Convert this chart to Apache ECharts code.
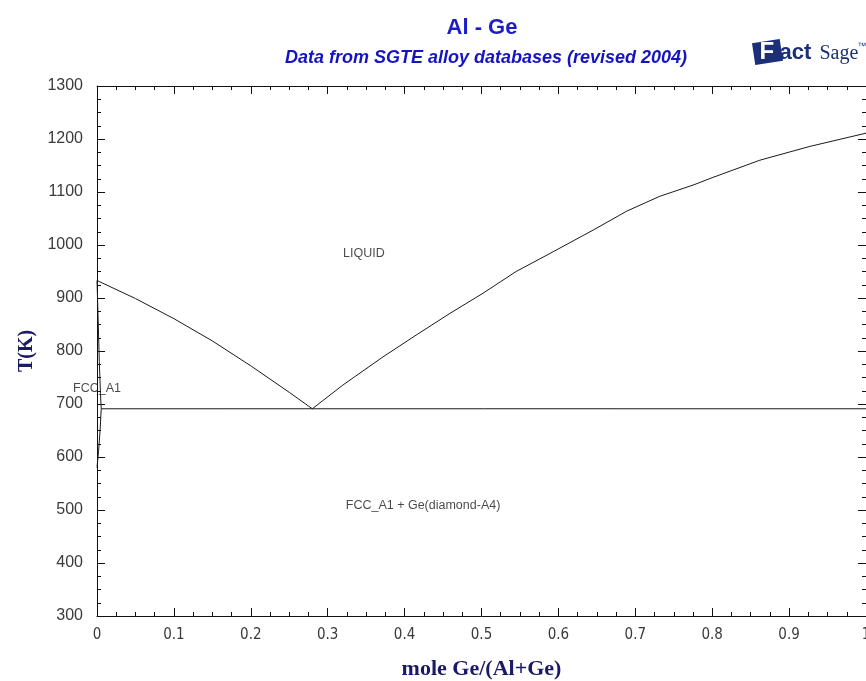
<!DOCTYPE html>
<html>
<head>
<meta charset="utf-8">
<script src="https://cdn.jsdelivr.net/npm/echarts@6/dist/echarts.min.js"></script>
<style>html,body{margin:0;padding:0;background:#fff;}#c{width:866px;height:681px;}</style>
</head>
<body>
<div id="c"></div>
<script>
// ---- data ----
var titleText = 'Al - Ge';
var subtitleText = 'Data from SGTE alloy databases (revised 2004)';
var xAxisName = 'mole Ge/(Al+Ge)';
var yAxisName = 'T(K)';
var xTicks = [0, 0.1, 0.2, 0.3, 0.4, 0.5, 0.6, 0.7, 0.8, 0.9, 1];
var yTicks = [300, 400, 500, 600, 700, 800, 900, 1000, 1100, 1200, 1300];

// liquidus, Al-rich side (x = mole fraction Ge, T in K)
var liquidusAl = [[0, 933], [0.05, 899], [0.1, 861], [0.15, 819], [0.2, 772], [0.25, 722], [0.28, 691]];
// liquidus, Ge-rich side
var liquidusGe = [[0.28, 691], [0.32, 736], [0.372, 789], [0.415, 830], [0.459, 871], [0.502, 909],
  [0.545, 950], [0.589, 984], [0.645, 1028], [0.689, 1064], [0.732, 1092], [0.775, 1113],
  [0.8, 1127], [0.862, 1160], [0.927, 1186], [1, 1211]];
// FCC_A1 solidus and solvus (very close to x = 0)
var solidus = [[0, 933], [0.0015, 860], [0.003, 780], [0.0045, 720], [0.0055, 691]];
var solvus = [[0.0055, 691], [0.004, 650], [0.002, 610], [0, 580]];
// eutectic isotherm
var eutectic = [[0.0055, 691], [1, 691]];
// region labels
var regionLabels = [
  {name: 'LIQUID', value: [0.347, 983]},
  {name: 'FCC_A1', value: [0.0, 730]},
  {name: 'FCC_A1 + Ge(diamond-A4)', value: [0.424, 509]}
];

var chart = echarts.init(document.getElementById('c'), null, {renderer: 'canvas'});
var lineStyle = {color: '#1a1a1a', width: 1};
function lineSeries(d) {
  return {type: 'line', data: d, showSymbol: false, symbol: 'none', lineStyle: lineStyle, silent: true, animation: false, z: 3};
}
var tickColor = '#111';
var axisCommon = {
  type: 'value', min: 0, max: 1, interval: 0.1,
  axisLine: {show: true, onZero: false, lineStyle: {color: tickColor, width: 1}},
  axisTick: {show: true, inside: true, length: 8, lineStyle: {color: tickColor}},
  minorTick: {show: true, splitNumber: 4, length: 4, lineStyle: {color: tickColor}},
  splitLine: {show: false}
};
var yCommon = {
  type: 'value', min: 300, max: 1300, interval: 100,
  axisLine: {show: true, onZero: false, lineStyle: {color: tickColor, width: 1}},
  axisTick: {show: true, inside: true, length: 8, lineStyle: {color: tickColor}},
  minorTick: {show: true, splitNumber: 4, length: 4, lineStyle: {color: tickColor}},
  splitLine: {show: false}
};

var option = {
  backgroundColor: '#ffffff',
  animation: false,
  title: [
    {text: titleText, left: 477, top: 12, textAlign: 'center',
      textStyle: {fontFamily: 'Liberation Sans, Arial', fontWeight: 'bold', fontSize: 22, color: '#1c1cc8'}},
    {text: subtitleText, left: 481, top: 44, textAlign: 'center',
      textStyle: {fontFamily: 'Liberation Sans, Arial', fontWeight: 'bold', fontStyle: 'italic', fontSize: 18, color: '#1414c0'}}
  ],
  grid: {left: 97, top: 86, right: 0, bottom: 65, containLabel: false, outerBoundsMode: 'none'},
  xAxis: [
    Object.assign({}, axisCommon, {
      position: 'bottom',
      name: xAxisName, nameLocation: 'middle', nameGap: 42,
      nameTextStyle: {fontFamily: 'Liberation Serif, Times New Roman', fontWeight: 'bold', fontSize: 22, color: '#1a1a66'},
      axisLabel: {show: true, margin: 12, color: '#3a3a3a', fontSize: 15,
        fontFamily: 'Liberation Sans Narrow, DejaVu Sans Condensed, Arial Narrow, Liberation Sans',
        formatter: function (v) { var i = xTicks.indexOf(Math.round(v * 10) / 10); return i >= 0 ? String(xTicks[i]) : ''; }}
    }),
    Object.assign({}, axisCommon, {position: 'top', axisLabel: {show: false}})
  ],
  yAxis: [
    Object.assign({}, yCommon, {
      position: 'left',
      name: yAxisName, nameLocation: 'middle', nameGap: 50, nameRotate: 90,
      nameTextStyle: {fontFamily: 'Liberation Serif, Times New Roman', fontWeight: 'bold', fontSize: 20, color: '#1a1a66'},
      axisLabel: {show: true, margin: 14, color: '#3a3a3a', fontSize: 16, fontFamily: 'Liberation Sans, Arial',
        formatter: function (v) { return yTicks.indexOf(v) >= 0 ? String(v) : ''; }}
    }),
    Object.assign({}, yCommon, {position: 'right', axisLabel: {show: false}})
  ],
  series: [
    lineSeries(liquidusAl),
    lineSeries(liquidusGe),
    lineSeries(solidus),
    lineSeries(solvus),
    lineSeries(eutectic),
    {
      type: 'scatter', data: regionLabels, symbolSize: 0, silent: true, z: 5,
      label: {show: true, position: 'inside', formatter: function (p) { return p.name; },
        color: '#1a1a1a', fontSize: 12.5, fontFamily: 'Liberation Sans, Arial'}
    }
  ],
  graphic: [
    {type: 'group', left: 752, top: 39, children: [
      {type: 'rect', shape: {x: 0, y: 0, width: 28, height: 22}, rotation: 0.15, originX: 14, originY: 11,
        style: {fill: '#1d2f78'}},
      {type: 'text', x: 6, y: -1, style: {text: 'F', fill: '#ffffff', font: 'bold 24px Liberation Sans'}},
      {type: 'text', x: 26, y: 1, style: {text: 'act', fill: '#1d2f78', font: 'bold 22px Liberation Sans'}},
      {type: 'text', x: 66, y: 3, style: {text: 'Sage', fill: '#1d2f78', font: '20px Liberation Serif'}},
      {type: 'text', x: 104, y: 1, style: {text: '™', fill: '#1d2f78', font: '9px Liberation Sans'}}
    ]}
  ]
};
chart.setOption(option);
</script>
</body>
</html>
